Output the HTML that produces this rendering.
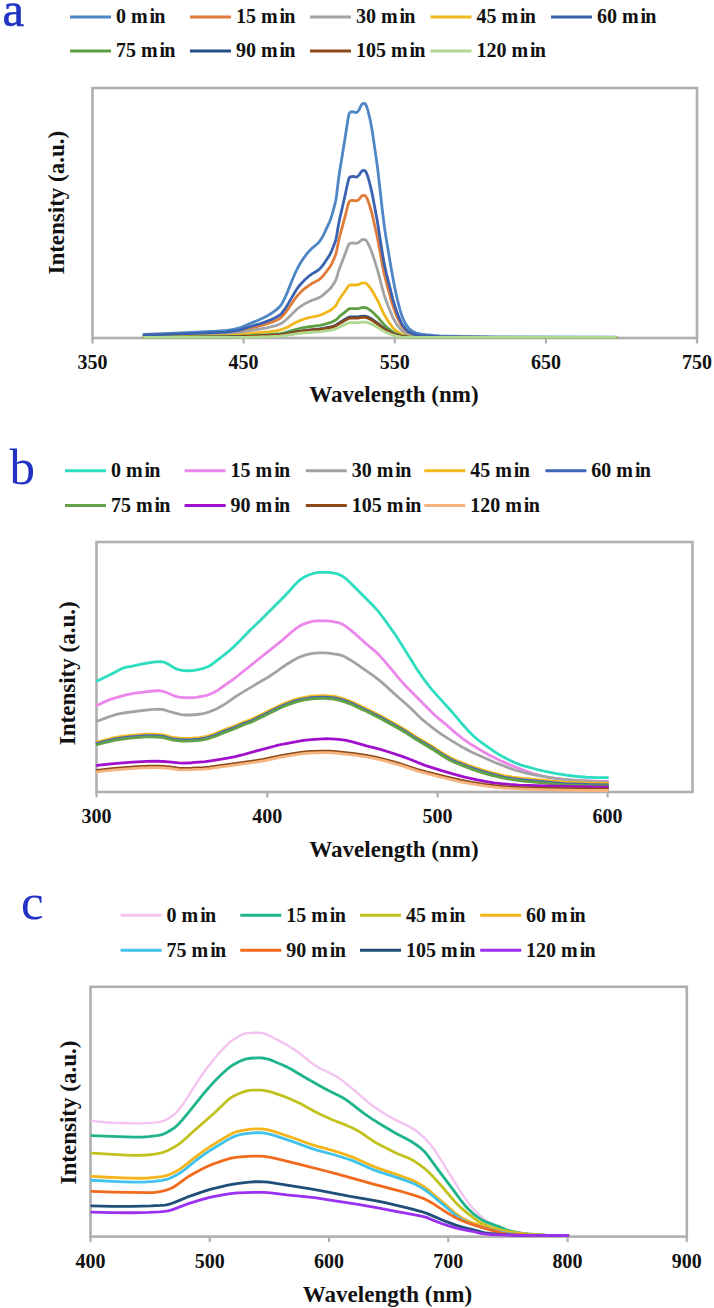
<!DOCTYPE html><html><head><meta charset="utf-8"><style>
html,body{margin:0;padding:0;background:#fff;}
svg{display:block}
.tk{font-family:'Liberation Serif',serif;font-weight:bold;font-size:20px;fill:#111}
.lg{font-family:'Liberation Serif',serif;font-weight:bold;font-size:20px;fill:#111}
.ax{font-family:'Liberation Serif',serif;font-weight:bold;font-size:23px;fill:#111}
.pl{font-family:'Liberation Serif',serif;font-size:51px;fill:#2233c4}
</style></head><body>
<svg width="714" height="1308" viewBox="0 0 714 1308">
<text x="2.6" y="26" class="pl" style="font-size:48.5px;stroke:#2233c4;stroke-width:0.6">a</text>
<rect x="92.5" y="88" width="604.5" height="250" fill="none" stroke="#afafaf" stroke-width="2.6"/>
<line x1="92.5" y1="338" x2="92.5" y2="343.5" stroke="#afafaf" stroke-width="2.2"/>
<line x1="243.6" y1="338" x2="243.6" y2="343.5" stroke="#afafaf" stroke-width="2.2"/>
<line x1="394.8" y1="338" x2="394.8" y2="343.5" stroke="#afafaf" stroke-width="2.2"/>
<line x1="545.9" y1="338" x2="545.9" y2="343.5" stroke="#afafaf" stroke-width="2.2"/>
<line x1="697" y1="338" x2="697" y2="343.5" stroke="#afafaf" stroke-width="2.2"/>
<text x="92.5" y="369" text-anchor="middle" class="tk">350</text>
<text x="243.6" y="369" text-anchor="middle" class="tk">450</text>
<text x="394.8" y="369" text-anchor="middle" class="tk">550</text>
<text x="545.9" y="369" text-anchor="middle" class="tk">650</text>
<text x="697" y="369" text-anchor="middle" class="tk">750</text>
<text x="394" y="401.6" text-anchor="middle" class="ax">Wavelength (nm)</text>
<text transform="translate(63.8,202.7) rotate(-90)" text-anchor="middle" class="ax">Intensity (a.u.)</text>
<line x1="70" y1="16.9" x2="111" y2="16.9" stroke="#4f86c6" stroke-width="3"/>
<text x="115.9" y="23.2" class="lg">0 m<tspan dx='2'>i</tspan><tspan dx='-0.8'>n</tspan></text>
<line x1="190" y1="16.9" x2="231" y2="16.9" stroke="#e07b39" stroke-width="3"/>
<text x="235.9" y="23.2" class="lg">15 m<tspan dx='2'>i</tspan><tspan dx='-0.8'>n</tspan></text>
<line x1="310" y1="16.9" x2="351" y2="16.9" stroke="#a3a3a3" stroke-width="3"/>
<text x="355.9" y="23.2" class="lg">30 m<tspan dx='2'>i</tspan><tspan dx='-0.8'>n</tspan></text>
<line x1="430.5" y1="16.9" x2="471.5" y2="16.9" stroke="#f0b81c" stroke-width="3"/>
<text x="476.4" y="23.2" class="lg">45 m<tspan dx='2'>i</tspan><tspan dx='-0.8'>n</tspan></text>
<line x1="551" y1="16.9" x2="592" y2="16.9" stroke="#3a62b0" stroke-width="3"/>
<text x="596.9" y="23.2" class="lg">60 m<tspan dx='2'>i</tspan><tspan dx='-0.8'>n</tspan></text>
<line x1="70" y1="51" x2="111" y2="51" stroke="#5e9e42" stroke-width="3"/>
<text x="115.9" y="57.3" class="lg">75 m<tspan dx='2'>i</tspan><tspan dx='-0.8'>n</tspan></text>
<line x1="190" y1="51" x2="231" y2="51" stroke="#264e86" stroke-width="3"/>
<text x="235.9" y="57.3" class="lg">90 m<tspan dx='2'>i</tspan><tspan dx='-0.8'>n</tspan></text>
<line x1="310" y1="51" x2="351" y2="51" stroke="#8c4a18" stroke-width="3"/>
<text x="355.9" y="57.3" class="lg">105 m<tspan dx='2'>i</tspan><tspan dx='-0.8'>n</tspan></text>
<line x1="430.5" y1="51" x2="471.5" y2="51" stroke="#b0d890" stroke-width="3"/>
<text x="476.4" y="57.3" class="lg">120 m<tspan dx='2'>i</tspan><tspan dx='-0.8'>n</tspan></text>
<path d="M144.00,334.29 L176.00,333.04 L216.50,331.11 L226.75,330.32 L230.50,329.81 L234.25,329.13 L238.75,328.10 L242.00,327.02 L258.25,320.17 L263.00,318.00 L268.00,315.41 L272.00,312.98 L276.25,309.89 L279.25,307.13 L280.75,305.40 L281.75,303.96 L284.75,298.27 L287.00,293.14 L292.25,280.10 L295.25,272.98 L297.25,268.72 L300.00,263.73 L304.00,257.57 L306.25,254.58 L308.25,252.18 L310.50,249.77 L312.75,247.60 L317.75,243.53 L319.75,241.15 L321.50,238.46 L323.25,235.36 L329.50,222.11 L330.75,218.83 L332.00,214.82 L334.75,204.94 L335.75,200.48 L336.50,195.74 L338.25,181.21 L339.50,172.27 L345.25,137.01 L347.75,120.51 L348.50,116.37 L349.00,114.29 L349.25,113.57 L349.75,112.71 L350.25,112.30 L351.25,111.89 L352.25,111.74 L353.00,111.79 L356.00,112.53 L356.50,112.48 L357.00,112.25 L358.00,111.28 L359.25,109.53 L361.25,105.23 L361.75,104.41 L362.25,103.91 L362.75,103.65 L364.25,103.37 L365.00,103.67 L365.75,104.68 L366.75,106.88 L367.75,109.79 L370.00,119.05 L372.25,130.89 L377.50,167.35 L382.75,213.74 L384.50,227.54 L386.25,238.96 L391.25,268.71 L394.25,285.15 L396.00,293.56 L397.75,301.12 L400.00,309.57 L401.75,315.29 L403.25,319.17 L405.25,323.21 L407.25,326.45 L409.00,328.48 L411.25,330.32 L413.50,331.79 L415.75,332.87 L417.75,333.48 L421.50,334.20 L425.75,334.75 L433.75,335.51 L439.75,335.89 L461.75,336.48 L498.25,336.88 L616.00,337.20" fill="none" stroke="#4f86c6" stroke-width="2.8" stroke-linejoin="round" stroke-linecap="round"/>
<path d="M144.00,335.52 L175.50,334.70 L215.75,333.42 L226.00,332.92 L233.00,332.23 L238.00,331.51 L241.00,330.90 L249.75,328.42 L259.75,325.91 L264.75,324.51 L269.50,323.01 L273.25,321.61 L277.00,319.96 L279.75,318.41 L281.00,317.53 L282.00,316.63 L285.25,312.90 L288.25,308.76 L295.75,297.79 L297.50,295.58 L300.00,292.84 L304.00,289.10 L308.25,285.82 L312.75,283.04 L317.75,280.56 L319.75,279.11 L321.50,277.48 L323.25,275.59 L329.50,267.54 L330.75,265.54 L332.00,263.11 L334.75,257.10 L335.75,254.38 L336.50,251.51 L338.25,242.67 L339.50,237.23 L345.25,215.80 L347.75,205.77 L349.00,201.98 L349.75,201.02 L351.25,200.52 L353.00,200.46 L356.00,200.92 L357.00,200.74 L358.00,200.16 L359.25,199.09 L361.75,195.97 L362.50,195.58 L364.00,195.35 L364.75,195.45 L365.50,195.99 L366.50,197.44 L367.50,199.39 L369.75,205.75 L372.00,213.55 L377.50,237.97 L382.75,266.64 L384.50,275.16 L387.25,285.96 L391.25,300.28 L393.00,306.07 L394.75,311.09 L396.75,316.13 L398.75,320.46 L401.00,324.74 L402.50,327.09 L404.25,329.18 L406.50,331.35 L408.50,332.75 L410.50,333.69 L413.00,334.60 L415.25,335.21 L417.25,335.57 L425.25,336.27 L439.50,336.89 L460.75,337.20 L494.50,337.40 L616.00,337.40" fill="none" stroke="#e07b39" stroke-width="2.8" stroke-linejoin="round" stroke-linecap="round"/>
<path d="M144.00,336.13 L215.00,334.57 L225.50,334.20 L232.00,333.74 L240.25,332.78 L250.00,330.73 L266.50,327.78 L270.75,326.85 L274.75,325.81 L277.75,324.90 L280.00,324.02 L282.25,322.78 L285.50,320.25 L288.75,317.23 L296.00,309.99 L298.00,308.30 L300.25,306.63 L304.25,304.07 L308.25,301.95 L312.75,300.03 L317.75,298.32 L319.75,297.32 L323.25,294.89 L329.50,289.32 L330.75,287.95 L332.00,286.26 L334.75,282.11 L335.75,280.24 L336.50,278.25 L338.25,272.15 L339.50,268.39 L345.25,253.58 L347.75,246.65 L349.00,244.04 L349.75,243.38 L351.25,243.03 L353.00,242.99 L356.00,243.30 L357.00,243.18 L358.00,242.78 L359.25,242.04 L361.75,239.89 L362.50,239.62 L364.00,239.46 L364.75,239.53 L365.50,239.93 L366.50,240.99 L367.50,242.42 L369.75,247.07 L371.75,252.01 L373.25,256.39 L377.50,269.93 L383.00,290.96 L384.50,296.09 L387.50,304.49 L392.50,316.76 L394.25,320.24 L396.25,323.58 L398.00,326.10 L400.50,329.21 L402.00,330.80 L403.50,332.04 L405.75,333.50 L408.00,334.60 L409.75,335.17 L412.50,335.82 L417.25,336.52 L425.25,336.95 L439.75,337.33 L616.00,337.40" fill="none" stroke="#a3a3a3" stroke-width="2.8" stroke-linejoin="round" stroke-linecap="round"/>
<path d="M144.00,336.87 L214.50,335.93 L231.00,335.47 L239.75,334.88 L250.25,333.57 L268.00,331.81 L275.75,330.79 L280.25,329.94 L282.50,329.23 L286.00,327.73 L289.00,326.20 L296.25,322.20 L300.50,320.35 L304.25,319.02 L308.25,317.83 L312.75,316.76 L317.75,315.80 L319.75,315.24 L323.25,313.88 L329.50,310.77 L332.00,309.05 L334.75,306.73 L335.75,305.68 L336.50,304.57 L338.25,301.16 L339.50,299.05 L345.25,290.77 L347.75,286.89 L349.00,285.43 L349.75,285.06 L351.25,284.86 L356.00,285.02 L357.00,284.95 L359.25,284.31 L361.75,283.11 L364.00,282.86 L364.75,282.91 L365.50,283.14 L366.50,283.75 L367.50,284.57 L369.75,287.24 L372.00,290.45 L377.75,300.69 L383.00,312.18 L384.75,315.63 L387.75,320.52 L392.25,326.86 L393.75,328.56 L395.50,330.18 L397.50,331.73 L399.75,333.21 L401.50,334.21 L403.00,334.90 L405.25,335.67 L407.50,336.26 L410.00,336.67 L413.75,337.07 L420.75,337.40 L616.00,337.40" fill="none" stroke="#f0b81c" stroke-width="2.8" stroke-linejoin="round" stroke-linecap="round"/>
<path d="M144.00,335.09 L175.50,334.12 L215.75,332.62 L226.00,332.03 L233.00,331.22 L238.00,330.38 L241.00,329.66 L249.75,326.75 L259.75,323.80 L264.75,322.15 L269.50,320.40 L273.25,318.75 L277.00,316.82 L279.75,315.00 L281.00,313.96 L282.00,312.91 L285.25,308.53 L288.25,303.66 L295.75,290.78 L297.50,288.19 L300.00,284.97 L304.00,280.58 L308.25,276.72 L312.75,273.46 L317.75,270.55 L319.75,268.85 L321.50,266.93 L323.25,264.71 L329.50,255.25 L330.75,252.91 L332.00,250.05 L334.75,243.00 L335.75,239.81 L336.50,236.43 L338.25,226.05 L339.50,219.67 L345.25,194.49 L347.75,182.71 L349.00,178.27 L349.75,177.14 L350.25,176.85 L351.25,176.56 L353.00,176.48 L356.00,177.02 L357.00,176.81 L358.00,176.12 L359.25,174.87 L361.25,171.80 L361.75,171.21 L362.50,170.75 L364.00,170.48 L364.75,170.60 L365.50,171.29 L366.25,172.57 L367.25,174.84 L368.00,177.05 L369.25,181.53 L371.50,190.68 L373.00,197.95 L377.25,220.84 L382.50,254.06 L384.25,263.91 L386.50,274.04 L392.75,298.87 L394.75,305.66 L396.75,311.71 L398.75,316.93 L401.00,322.07 L402.50,324.90 L404.25,327.41 L406.50,330.01 L408.50,331.70 L410.50,332.82 L413.00,333.92 L415.25,334.65 L417.25,335.08 L420.75,335.53 L425.25,335.92 L439.50,336.67 L462.75,337.06 L502.75,337.32 L616.00,337.40" fill="none" stroke="#3a62b0" stroke-width="2.8" stroke-linejoin="round" stroke-linecap="round"/>
<path d="M144.00,337.37 L214.50,336.85 L231.00,336.60 L239.75,336.28 L250.25,335.55 L268.00,334.58 L275.75,334.01 L280.25,333.54 L282.50,333.15 L286.00,332.32 L296.25,329.26 L300.50,328.24 L308.25,326.84 L319.75,325.41 L323.25,324.66 L329.50,322.93 L332.00,321.99 L335.75,320.12 L336.50,319.51 L339.50,316.45 L345.25,311.87 L347.75,309.73 L349.00,308.92 L349.75,308.71 L351.25,308.61 L357.00,308.65 L359.25,308.30 L361.75,307.63 L364.00,307.50 L365.50,307.65 L367.50,308.42 L369.75,309.86 L372.00,311.59 L377.75,317.20 L383.00,323.49 L384.75,325.36 L387.75,327.99 L392.50,331.64 L396.00,333.60 L400.50,335.40 L403.50,336.24 L408.00,337.00 L413.25,337.40 L616.00,337.40" fill="none" stroke="#5e9e42" stroke-width="2.8" stroke-linejoin="round" stroke-linecap="round"/>
<path d="M144.00,337.40 L176.25,337.40 L230.25,337.01 L239.75,336.77 L267.75,335.56 L280.25,334.81 L286.00,333.93 L296.25,331.75 L300.50,331.02 L308.25,330.02 L319.75,328.99 L323.25,328.45 L329.50,327.22 L332.00,326.54 L335.75,325.21 L339.50,322.59 L347.75,317.77 L349.00,317.20 L351.25,316.97 L357.00,317.00 L359.25,316.75 L361.75,316.28 L364.00,316.18 L365.50,316.29 L367.50,316.86 L369.75,317.91 L371.75,319.03 L377.50,323.04 L382.75,327.48 L384.50,328.80 L387.25,330.49 L392.50,333.30 L396.25,334.81 L400.50,336.06 L403.50,336.69 L408.00,337.26 L410.25,337.40 L616.00,337.40" fill="none" stroke="#264e86" stroke-width="2.8" stroke-linejoin="round" stroke-linecap="round"/>
<path d="M144.00,337.40 L182.50,337.40 L230.00,337.07 L239.50,336.84 L267.75,335.69 L280.25,334.98 L286.00,334.15 L296.25,332.08 L300.50,331.39 L308.25,330.45 L319.75,329.48 L323.25,328.97 L329.50,327.80 L332.00,327.16 L335.75,325.90 L339.50,323.42 L347.75,318.86 L349.00,318.31 L351.25,318.10 L357.00,318.13 L359.25,317.89 L361.75,317.44 L364.00,317.35 L365.50,317.46 L367.50,317.99 L371.75,320.05 L377.50,323.85 L382.75,328.04 L384.50,329.30 L387.25,330.89 L392.50,333.56 L396.25,334.98 L400.50,336.17 L403.50,336.76 L408.00,337.30 L409.75,337.40 L616.00,337.40" fill="none" stroke="#8c4a18" stroke-width="2.8" stroke-linejoin="round" stroke-linecap="round"/>
<path d="M144.00,337.40 L244.50,337.40 L270.00,336.59 L280.00,336.12 L285.75,335.48 L296.25,333.79 L300.50,333.24 L308.25,332.49 L319.75,331.72 L329.50,330.39 L332.00,329.88 L335.75,328.87 L339.50,326.90 L347.75,323.28 L349.00,322.84 L351.25,322.67 L357.00,322.70 L361.75,322.15 L364.00,322.08 L365.50,322.16 L367.50,322.58 L371.75,324.22 L377.50,327.24 L384.25,331.45 L386.75,332.63 L391.25,334.49 L393.75,335.39 L396.50,336.16 L400.25,336.99 L402.75,337.40 L616.00,337.40" fill="none" stroke="#b0d890" stroke-width="2.8" stroke-linejoin="round" stroke-linecap="round"/>
<text x="9.5" y="484" class="pl">b</text>
<rect x="96.5" y="542" width="596.0" height="250" fill="none" stroke="#afafaf" stroke-width="2.6"/>
<line x1="96.5" y1="792" x2="96.5" y2="797.5" stroke="#afafaf" stroke-width="2.2"/>
<line x1="267.3" y1="792" x2="267.3" y2="797.5" stroke="#afafaf" stroke-width="2.2"/>
<line x1="437.6" y1="792" x2="437.6" y2="797.5" stroke="#afafaf" stroke-width="2.2"/>
<line x1="607.6" y1="792" x2="607.6" y2="797.5" stroke="#afafaf" stroke-width="2.2"/>
<text x="96.5" y="823" text-anchor="middle" class="tk">300</text>
<text x="267.3" y="823" text-anchor="middle" class="tk">400</text>
<text x="437.6" y="823" text-anchor="middle" class="tk">500</text>
<text x="607.6" y="823" text-anchor="middle" class="tk">600</text>
<text x="394" y="857" text-anchor="middle" class="ax">Wavelength (nm)</text>
<text transform="translate(74.5,673.3) rotate(-90)" text-anchor="middle" class="ax">Intensity (a.u.)</text>
<line x1="65" y1="470.8" x2="106" y2="470.8" stroke="#2edcc0" stroke-width="3"/>
<text x="110.9" y="477.1" class="lg">0 m<tspan dx='2'>i</tspan><tspan dx='-0.8'>n</tspan></text>
<line x1="184.6" y1="470.8" x2="225.6" y2="470.8" stroke="#ec86ea" stroke-width="3"/>
<text x="230.5" y="477.1" class="lg">15 m<tspan dx='2'>i</tspan><tspan dx='-0.8'>n</tspan></text>
<line x1="305.8" y1="470.8" x2="346.8" y2="470.8" stroke="#a3a3a3" stroke-width="3"/>
<text x="351.7" y="477.1" class="lg">30 m<tspan dx='2'>i</tspan><tspan dx='-0.8'>n</tspan></text>
<line x1="424.3" y1="470.8" x2="465.3" y2="470.8" stroke="#f5b81c" stroke-width="3"/>
<text x="470.2" y="477.1" class="lg">45 m<tspan dx='2'>i</tspan><tspan dx='-0.8'>n</tspan></text>
<line x1="545.4" y1="470.8" x2="586.4" y2="470.8" stroke="#3f67b8" stroke-width="3"/>
<text x="591.3" y="477.1" class="lg">60 m<tspan dx='2'>i</tspan><tspan dx='-0.8'>n</tspan></text>
<line x1="65" y1="505.6" x2="106" y2="505.6" stroke="#63a047" stroke-width="3"/>
<text x="110.9" y="511.90000000000003" class="lg">75 m<tspan dx='2'>i</tspan><tspan dx='-0.8'>n</tspan></text>
<line x1="184.6" y1="505.6" x2="225.6" y2="505.6" stroke="#a010cc" stroke-width="3"/>
<text x="230.5" y="511.90000000000003" class="lg">90 m<tspan dx='2'>i</tspan><tspan dx='-0.8'>n</tspan></text>
<line x1="305.8" y1="505.6" x2="346.8" y2="505.6" stroke="#8c4a18" stroke-width="3"/>
<text x="351.7" y="511.90000000000003" class="lg">105 m<tspan dx='2'>i</tspan><tspan dx='-0.8'>n</tspan></text>
<line x1="424.3" y1="505.6" x2="465.3" y2="505.6" stroke="#f5b47e" stroke-width="3"/>
<text x="470.2" y="511.90000000000003" class="lg">120 m<tspan dx='2'>i</tspan><tspan dx='-0.8'>n</tspan></text>
<path d="M97.00,680.80 L98.75,680.22 L100.75,679.31 L113.50,672.94 L120.50,669.17 L123.50,667.90 L125.75,667.29 L132.25,666.09 L142.50,663.81 L151.50,662.27 L155.50,661.89 L159.50,661.69 L161.75,661.77 L163.75,662.13 L165.50,662.71 L167.50,663.65 L173.25,667.28 L176.50,668.90 L179.75,669.99 L183.50,670.55 L189.25,670.74 L191.75,670.61 L194.25,670.30 L198.25,669.56 L202.50,668.58 L205.25,667.77 L207.75,666.80 L209.75,665.76 L211.50,664.62 L224.00,655.14 L228.75,651.24 L234.25,646.29 L240.25,640.38 L250.00,630.16 L260.25,620.57 L280.75,600.09 L284.75,595.94 L296.00,583.63 L298.50,581.18 L300.75,579.33 L304.00,577.21 L307.50,575.46 L311.50,573.99 L315.50,572.96 L320.00,572.39 L325.50,572.15 L329.25,572.37 L334.00,573.10 L337.50,573.94 L340.50,575.09 L343.25,576.72 L346.50,579.25 L350.00,582.49 L372.00,604.55 L377.00,609.92 L380.25,613.83 L383.25,617.73 L395.25,634.58 L399.50,641.14 L417.25,669.80 L422.25,677.06 L428.50,685.43 L431.50,689.14 L435.00,693.18 L453.00,713.06 L461.75,723.47 L467.00,729.40 L470.25,732.80 L473.75,736.18 L477.00,739.07 L480.25,741.65 L494.75,751.81 L499.00,754.50 L503.50,757.10 L509.25,760.10 L515.00,762.72 L519.75,764.60 L524.75,766.17 L538.00,769.76 L545.25,771.47 L555.25,773.40 L566.25,775.09 L577.25,776.49 L586.50,777.23 L593.50,777.50 L607.60,777.60" fill="none" stroke="#2edcc0" stroke-width="2.8" stroke-linejoin="round" stroke-linecap="round"/>
<path d="M97.00,705.25 L99.00,704.50 L105.50,701.38 L109.75,699.70 L116.25,697.57 L125.00,695.10 L129.75,694.03 L135.25,693.11 L153.00,690.99 L158.25,690.68 L160.00,690.76 L161.75,691.02 L163.75,691.55 L166.50,692.54 L173.50,695.57 L175.75,696.38 L179.00,697.07 L184.25,697.59 L190.00,697.75 L195.75,697.35 L203.50,696.12 L206.25,695.48 L208.50,694.76 L213.25,692.70 L218.25,689.95 L233.75,679.00 L281.50,640.87 L293.00,630.81 L296.50,628.15 L299.25,626.35 L302.75,624.51 L306.25,623.09 L310.00,621.99 L314.00,621.18 L317.75,620.84 L324.50,620.81 L328.00,620.96 L331.75,621.42 L338.25,622.62 L340.25,623.25 L342.00,624.03 L344.25,625.34 L347.50,627.60 L353.75,632.61 L366.75,644.27 L375.00,651.08 L379.00,654.89 L384.00,660.35 L400.00,679.66 L403.50,683.65 L433.00,713.39 L436.00,716.29 L438.75,718.68 L445.75,724.32 L455.75,733.09 L463.00,738.82 L467.25,741.87 L471.00,744.35 L485.00,752.72 L489.50,755.18 L500.75,760.82 L507.00,763.65 L519.50,768.68 L526.00,771.11 L536.00,774.46 L542.25,776.19 L548.25,777.42 L554.50,778.40 L561.00,779.11 L571.75,780.02 L579.00,780.52 L589.75,780.99 L599.25,781.29 L607.60,781.40" fill="none" stroke="#ec86ea" stroke-width="2.8" stroke-linejoin="round" stroke-linecap="round"/>
<path d="M97.00,721.05 L99.00,720.47 L105.25,718.07 L111.25,716.02 L115.75,714.65 L119.75,713.68 L125.25,712.75 L143.75,710.28 L153.75,709.29 L158.75,709.08 L162.00,709.39 L164.00,709.87 L169.25,711.50 L178.00,713.97 L181.25,714.66 L184.00,714.98 L189.25,715.00 L196.75,714.51 L201.75,713.92 L205.75,713.00 L210.00,711.57 L214.75,709.66 L218.50,707.84 L223.00,705.31 L226.75,702.91 L233.50,698.04 L237.50,695.38 L247.75,689.16 L268.00,677.23 L275.00,672.66 L283.25,666.73 L287.00,664.20 L293.00,660.55 L298.00,657.82 L301.25,656.41 L305.00,655.14 L308.75,654.18 L313.00,653.37 L315.75,653.04 L318.75,652.91 L325.00,652.93 L328.25,653.15 L338.75,654.68 L340.50,655.07 L342.00,655.57 L344.75,656.82 L348.75,659.00 L352.25,661.10 L356.00,663.58 L373.25,675.73 L377.75,679.11 L381.50,682.12 L385.25,685.38 L395.75,694.95 L407.75,705.45 L411.50,709.00 L418.00,715.55 L421.00,718.34 L426.25,722.76 L434.00,728.89 L442.25,734.82 L451.00,740.42 L463.50,747.83 L468.50,750.52 L473.00,752.71 L495.00,762.52 L509.50,768.13 L513.50,769.54 L518.25,770.98 L524.50,772.67 L529.75,773.93 L537.00,775.36 L549.25,777.47 L555.50,778.36 L564.50,779.40 L574.50,780.37 L585.00,781.14 L597.50,781.88 L607.60,782.28" fill="none" stroke="#a3a3a3" stroke-width="2.8" stroke-linejoin="round" stroke-linecap="round"/>
<path d="M97.00,741.79 L99.50,741.31 L114.25,737.72 L120.25,736.56 L130.25,735.35 L146.00,734.11 L153.25,734.08 L161.25,734.61 L164.50,735.17 L170.25,736.76 L173.00,737.37 L177.75,738.01 L182.50,738.39 L187.00,738.46 L192.50,738.23 L199.50,737.63 L203.75,737.01 L208.50,735.84 L214.25,733.98 L224.00,729.89 L234.00,726.34 L243.25,722.35 L251.00,719.54 L254.75,717.85 L270.50,710.00 L281.25,704.86 L287.50,702.23 L294.00,699.88 L298.25,698.66 L303.25,697.51 L307.25,696.79 L311.50,696.26 L316.75,695.80 L321.00,695.63 L325.50,695.71 L330.75,696.03 L334.00,696.38 L336.75,696.89 L340.50,697.88 L344.75,699.21 L348.50,700.62 L353.25,702.61 L363.75,707.42 L381.00,716.02 L401.25,727.39 L405.50,729.96 L415.00,736.09 L433.75,747.30 L444.50,754.33 L450.00,757.48 L455.25,759.97 L469.00,765.44 L473.75,767.15 L482.25,769.90 L489.00,771.86 L503.75,775.52 L512.50,777.02 L523.25,778.36 L556.25,781.49 L564.50,782.12 L588.00,783.01 L607.60,783.30" fill="none" stroke="#f5b81c" stroke-width="2.8" stroke-linejoin="round" stroke-linecap="round"/>
<path d="M97.00,743.29 L99.50,742.81 L114.25,739.22 L120.25,738.06 L130.25,736.85 L146.00,735.61 L153.25,735.58 L161.25,736.11 L164.50,736.67 L170.25,738.26 L173.00,738.87 L177.75,739.51 L182.50,739.89 L187.00,739.96 L192.50,739.73 L199.50,739.13 L203.75,738.51 L208.50,737.34 L214.25,735.48 L224.00,731.39 L234.00,727.84 L243.25,723.85 L251.00,721.04 L254.75,719.35 L270.50,711.50 L281.25,706.36 L287.50,703.73 L294.00,701.38 L298.25,700.16 L303.25,699.01 L307.25,698.29 L311.50,697.76 L316.75,697.30 L321.00,697.13 L325.50,697.21 L330.75,697.53 L334.00,697.88 L336.75,698.39 L340.50,699.38 L344.75,700.71 L348.50,702.12 L353.25,704.11 L363.75,708.92 L381.00,717.52 L401.25,728.89 L405.50,731.46 L415.00,737.59 L433.75,748.80 L444.50,755.83 L450.00,758.98 L455.25,761.47 L469.00,766.94 L473.75,768.65 L482.25,771.40 L489.00,773.36 L503.75,777.02 L512.50,778.52 L523.25,779.86 L556.25,782.99 L564.50,783.62 L588.00,784.51 L607.60,784.80" fill="none" stroke="#3f67b8" stroke-width="2.8" stroke-linejoin="round" stroke-linecap="round"/>
<path d="M97.00,744.49 L99.50,744.01 L114.25,740.42 L120.25,739.26 L130.25,738.05 L146.00,736.81 L153.25,736.78 L161.25,737.31 L164.50,737.87 L170.25,739.46 L173.00,740.07 L177.75,740.71 L182.50,741.09 L187.00,741.16 L192.50,740.93 L199.50,740.33 L203.75,739.71 L208.50,738.54 L214.25,736.68 L224.00,732.59 L234.00,729.04 L243.25,725.05 L251.00,722.24 L254.75,720.55 L270.50,712.70 L281.25,707.56 L287.50,704.93 L294.00,702.58 L298.25,701.36 L303.25,700.21 L307.25,699.49 L311.50,698.96 L316.75,698.50 L321.00,698.33 L325.50,698.41 L330.75,698.73 L334.00,699.08 L336.75,699.59 L340.50,700.58 L344.75,701.91 L348.50,703.32 L353.25,705.31 L363.75,710.12 L381.00,718.72 L401.25,730.09 L405.50,732.66 L415.00,738.79 L433.75,750.00 L444.50,757.03 L450.00,760.18 L455.25,762.67 L469.00,768.14 L473.75,769.85 L482.25,772.60 L489.00,774.56 L503.75,778.22 L512.50,779.72 L523.25,781.06 L556.25,784.19 L564.50,784.82 L588.00,785.71 L607.60,786.00" fill="none" stroke="#63a047" stroke-width="2.8" stroke-linejoin="round" stroke-linecap="round"/>
<path d="M97.00,765.40 L111.25,763.83 L123.00,762.77 L132.50,762.10 L147.25,761.34 L155.00,761.22 L163.25,761.49 L168.75,761.85 L178.75,762.87 L183.50,763.07 L192.00,762.73 L205.25,761.55 L212.25,760.64 L221.50,759.23 L228.75,757.95 L235.25,756.63 L242.00,754.98 L255.75,751.11 L276.00,745.73 L283.50,744.01 L294.00,742.01 L303.50,740.44 L311.25,739.53 L322.75,738.82 L327.00,738.72 L330.75,738.79 L335.25,739.09 L341.00,739.70 L344.75,740.21 L348.25,740.87 L353.50,742.15 L366.50,745.83 L379.50,749.18 L386.50,751.27 L400.75,755.88 L409.25,759.03 L425.00,765.34 L431.25,767.45 L442.50,770.96 L452.75,773.96 L463.75,776.83 L476.00,779.64 L485.00,781.42 L493.75,782.79 L501.25,783.72 L509.75,784.46 L519.25,785.03 L564.75,786.43 L607.60,787.19" fill="none" stroke="#a010cc" stroke-width="2.8" stroke-linejoin="round" stroke-linecap="round"/>
<path d="M97.00,770.30 L111.75,768.68 L124.25,767.57 L137.75,766.70 L149.50,766.17 L156.75,766.15 L165.50,766.52 L169.75,766.91 L178.25,768.05 L182.75,768.36 L192.00,768.21 L203.75,767.59 L209.25,767.02 L219.75,765.69 L255.75,760.65 L263.50,759.28 L282.25,755.34 L301.00,752.46 L307.25,751.76 L312.75,751.37 L323.00,751.05 L329.75,751.06 L336.25,751.56 L354.50,753.69 L366.25,755.46 L375.50,757.20 L385.00,759.50 L397.50,762.96 L403.25,764.75 L416.75,769.31 L426.00,771.87 L450.25,777.90 L460.50,780.23 L471.75,782.43 L484.50,784.44 L494.50,785.69 L502.00,786.43 L511.00,787.04 L522.00,787.55 L537.25,788.03 L566.75,788.67 L607.60,789.20" fill="none" stroke="#8c4a18" stroke-width="2.8" stroke-linejoin="round" stroke-linecap="round"/>
<path d="M97.00,771.80 L111.75,770.18 L124.25,769.07 L137.75,768.20 L149.50,767.67 L156.75,767.65 L165.50,768.02 L169.75,768.41 L178.25,769.55 L182.75,769.86 L192.00,769.71 L203.75,769.09 L209.25,768.52 L219.75,767.19 L255.75,762.15 L263.50,760.78 L282.25,756.84 L301.00,753.96 L307.25,753.26 L312.75,752.87 L323.00,752.55 L329.75,752.56 L336.25,753.06 L354.25,755.15 L366.00,756.91 L375.25,758.65 L384.75,760.93 L397.25,764.39 L403.00,766.16 L417.00,770.89 L426.00,773.37 L450.25,779.40 L460.75,781.78 L472.00,783.98 L484.75,785.97 L494.75,787.21 L502.50,787.98 L512.25,788.60 L524.00,789.12 L540.25,789.60 L577.50,790.37 L586.50,790.50 L607.60,790.50" fill="none" stroke="#f5b47e" stroke-width="2.8" stroke-linejoin="round" stroke-linecap="round"/>
<text x="21" y="919.3" class="pl">c</text>
<rect x="90.5" y="986.8" width="596.3" height="249.79999999999995" fill="none" stroke="#afafaf" stroke-width="2.6"/>
<line x1="90.5" y1="1236.6" x2="90.5" y2="1242.1" stroke="#afafaf" stroke-width="2.2"/>
<line x1="209.8" y1="1236.6" x2="209.8" y2="1242.1" stroke="#afafaf" stroke-width="2.2"/>
<line x1="329.1" y1="1236.6" x2="329.1" y2="1242.1" stroke="#afafaf" stroke-width="2.2"/>
<line x1="448.3" y1="1236.6" x2="448.3" y2="1242.1" stroke="#afafaf" stroke-width="2.2"/>
<line x1="567.6" y1="1236.6" x2="567.6" y2="1242.1" stroke="#afafaf" stroke-width="2.2"/>
<line x1="686.8" y1="1236.6" x2="686.8" y2="1242.1" stroke="#afafaf" stroke-width="2.2"/>
<text x="90.5" y="1267.5" text-anchor="middle" class="tk">400</text>
<text x="209.8" y="1267.5" text-anchor="middle" class="tk">500</text>
<text x="329.1" y="1267.5" text-anchor="middle" class="tk">600</text>
<text x="448.3" y="1267.5" text-anchor="middle" class="tk">700</text>
<text x="567.6" y="1267.5" text-anchor="middle" class="tk">800</text>
<text x="686.8" y="1267.5" text-anchor="middle" class="tk">900</text>
<text x="387.5" y="1301.5" text-anchor="middle" class="ax">Wavelength (nm)</text>
<text transform="translate(76,1112.5) rotate(-90)" text-anchor="middle" class="ax">Intensity (a.u.)</text>
<line x1="120.6" y1="915.2" x2="161.6" y2="915.2" stroke="#f3c4ef" stroke-width="3"/>
<text x="166.5" y="921.5" class="lg">0 m<tspan dx='2'>i</tspan><tspan dx='-0.8'>n</tspan></text>
<line x1="240.3" y1="915.2" x2="281.3" y2="915.2" stroke="#1eb48c" stroke-width="3"/>
<text x="286.2" y="921.5" class="lg">15 m<tspan dx='2'>i</tspan><tspan dx='-0.8'>n</tspan></text>
<line x1="360" y1="915.2" x2="401" y2="915.2" stroke="#c2c21e" stroke-width="3"/>
<text x="405.9" y="921.5" class="lg">45 m<tspan dx='2'>i</tspan><tspan dx='-0.8'>n</tspan></text>
<line x1="480.2" y1="915.2" x2="521.2" y2="915.2" stroke="#f4b41a" stroke-width="3"/>
<text x="526.1" y="921.5" class="lg">60 m<tspan dx='2'>i</tspan><tspan dx='-0.8'>n</tspan></text>
<line x1="120.6" y1="950.2" x2="161.6" y2="950.2" stroke="#40c2ea" stroke-width="3"/>
<text x="166.5" y="956.5" class="lg">75 m<tspan dx='2'>i</tspan><tspan dx='-0.8'>n</tspan></text>
<line x1="240.3" y1="950.2" x2="281.3" y2="950.2" stroke="#f26b1d" stroke-width="3"/>
<text x="286.2" y="956.5" class="lg">90 m<tspan dx='2'>i</tspan><tspan dx='-0.8'>n</tspan></text>
<line x1="360" y1="950.2" x2="401" y2="950.2" stroke="#1f4e79" stroke-width="3"/>
<text x="405.9" y="956.5" class="lg">105 m<tspan dx='2'>i</tspan><tspan dx='-0.8'>n</tspan></text>
<line x1="480.2" y1="950.2" x2="521.2" y2="950.2" stroke="#9b30f0" stroke-width="3"/>
<text x="526.1" y="956.5" class="lg">120 m<tspan dx='2'>i</tspan><tspan dx='-0.8'>n</tspan></text>
<path d="M91.80,1120.92 L104.55,1122.21 L112.30,1122.75 L129.55,1123.30 L142.05,1123.33 L151.05,1122.84 L155.80,1122.39 L158.80,1121.97 L161.05,1121.49 L163.05,1120.89 L165.30,1120.01 L167.55,1118.94 L170.80,1117.06 L173.55,1115.00 L176.30,1112.36 L179.55,1108.61 L182.80,1104.42 L185.55,1100.55 L188.05,1096.70 L194.05,1086.83 L197.05,1082.13 L201.80,1075.20 L207.05,1068.00 L213.30,1059.96 L218.30,1053.98 L223.80,1048.06 L228.80,1043.22 L232.55,1040.16 L236.55,1037.49 L240.80,1035.14 L242.55,1034.37 L244.30,1033.78 L246.05,1033.37 L248.05,1033.08 L254.55,1032.71 L259.55,1032.71 L263.05,1033.19 L266.30,1034.24 L270.05,1036.01 L284.55,1043.63 L289.05,1046.21 L293.55,1048.98 L299.55,1053.16 L310.55,1062.21 L315.30,1065.64 L317.80,1067.16 L320.55,1068.63 L329.80,1072.98 L333.30,1074.77 L336.80,1076.83 L340.55,1079.36 L345.80,1083.33 L353.30,1089.37 L368.80,1102.86 L372.55,1105.74 L377.05,1108.88 L384.80,1113.80 L393.55,1118.85 L398.30,1121.31 L407.55,1125.67 L411.30,1127.66 L415.05,1130.05 L418.80,1132.96 L423.30,1136.97 L427.30,1140.91 L430.30,1144.31 L433.30,1148.26 L436.30,1152.67 L440.80,1159.68 L461.80,1193.53 L465.05,1198.39 L468.55,1203.17 L472.55,1208.03 L477.05,1212.75 L482.80,1218.01 L487.05,1221.24 L490.05,1223.07 L494.05,1225.17 L498.05,1227.02 L501.80,1228.52 L505.05,1229.63 L508.55,1230.60 L512.80,1231.56 L517.80,1232.51 L523.55,1233.40 L529.05,1234.03 L546.05,1235.21 L547.80,1235.30 L567.90,1235.30" fill="none" stroke="#f3c4ef" stroke-width="2.4" stroke-linejoin="round" stroke-linecap="round"/>
<path d="M91.80,1135.55 L126.05,1136.96 L135.05,1137.17 L141.30,1137.13 L148.80,1136.67 L156.80,1135.72 L161.05,1134.82 L164.80,1133.44 L168.55,1131.53 L172.55,1129.05 L175.55,1126.79 L178.55,1123.99 L182.30,1119.83 L189.80,1110.79 L203.05,1094.28 L210.80,1085.36 L215.55,1080.28 L220.80,1075.09 L226.05,1070.22 L230.05,1066.94 L233.80,1064.43 L238.30,1062.02 L242.55,1060.13 L246.30,1058.94 L250.55,1058.25 L257.05,1057.88 L261.55,1057.97 L265.30,1058.51 L268.80,1059.42 L273.05,1060.92 L282.05,1064.68 L286.80,1066.88 L291.30,1069.32 L303.80,1076.81 L322.30,1087.33 L328.30,1090.53 L338.55,1095.51 L342.80,1097.78 L345.80,1099.61 L349.05,1101.84 L363.55,1113.10 L367.55,1115.95 L372.30,1119.08 L382.55,1125.45 L392.30,1131.23 L397.55,1134.18 L406.30,1138.71 L410.05,1140.80 L414.30,1143.46 L418.30,1146.27 L421.05,1148.44 L423.30,1150.45 L425.30,1152.48 L427.30,1154.83 L437.80,1169.37 L452.30,1188.66 L460.55,1199.92 L464.80,1205.20 L468.80,1209.53 L472.80,1213.30 L477.30,1216.86 L481.55,1219.66 L484.55,1221.26 L487.55,1222.59 L498.80,1226.60 L507.05,1229.97 L511.05,1231.18 L516.80,1232.37 L522.55,1233.29 L528.30,1233.97 L545.05,1235.16 L547.80,1235.30 L567.90,1235.30" fill="none" stroke="#1eb48c" stroke-width="2.8" stroke-linejoin="round" stroke-linecap="round"/>
<path d="M91.80,1153.17 L126.05,1155.06 L133.55,1155.33 L139.55,1155.36 L146.80,1155.01 L154.80,1154.12 L160.05,1153.22 L164.05,1152.04 L168.30,1150.23 L173.55,1147.48 L177.80,1144.87 L181.30,1142.27 L184.80,1139.27 L193.80,1131.02 L214.05,1113.20 L226.55,1101.17 L229.55,1098.68 L232.30,1096.80 L235.80,1094.93 L240.30,1092.98 L244.30,1091.57 L247.80,1090.68 L251.55,1090.20 L256.55,1090.03 L261.05,1090.12 L264.80,1090.54 L268.80,1091.43 L273.80,1092.95 L283.30,1096.15 L289.80,1098.72 L295.80,1101.42 L301.30,1104.09 L314.55,1111.48 L321.80,1115.09 L332.80,1119.95 L346.05,1125.17 L351.55,1127.58 L356.30,1129.97 L360.55,1132.41 L363.80,1134.54 L372.55,1140.70 L378.30,1144.09 L394.80,1152.44 L398.80,1154.22 L408.30,1157.99 L411.30,1159.45 L414.55,1161.31 L418.80,1164.11 L423.05,1167.28 L426.55,1170.20 L430.05,1173.51 L434.55,1178.21 L439.55,1183.73 L454.80,1201.60 L457.55,1204.52 L460.30,1207.15 L465.80,1211.86 L474.80,1218.95 L478.55,1221.51 L482.30,1223.54 L485.80,1225.09 L489.55,1226.54 L493.30,1227.79 L497.30,1228.92 L502.05,1230.03 L508.55,1231.36 L520.05,1233.26 L530.05,1234.35 L546.05,1235.30 L567.90,1235.30" fill="none" stroke="#c2c21e" stroke-width="2.8" stroke-linejoin="round" stroke-linecap="round"/>
<path d="M91.80,1176.37 L107.80,1177.25 L123.55,1177.94 L132.55,1178.22 L139.55,1178.27 L146.80,1178.03 L154.30,1177.42 L161.80,1176.52 L166.30,1175.59 L169.30,1174.59 L172.55,1173.18 L176.80,1170.99 L180.30,1168.93 L184.80,1165.68 L195.80,1156.61 L206.05,1149.29 L211.30,1145.79 L216.05,1142.82 L227.55,1135.96 L232.05,1133.55 L235.05,1132.25 L238.05,1131.29 L241.30,1130.58 L246.30,1129.77 L251.30,1129.17 L256.05,1128.82 L260.05,1128.79 L263.55,1129.06 L268.30,1129.92 L273.55,1131.36 L293.55,1138.03 L307.80,1143.25 L313.30,1145.13 L318.30,1146.63 L332.30,1150.38 L339.55,1152.59 L346.30,1154.82 L351.55,1156.71 L355.80,1158.41 L369.55,1164.75 L375.30,1167.16 L380.80,1169.15 L393.55,1173.38 L403.80,1176.95 L408.55,1178.71 L412.55,1180.38 L416.55,1182.31 L420.30,1184.40 L424.05,1186.76 L427.30,1189.10 L430.80,1191.94 L444.30,1203.52 L454.55,1212.57 L458.55,1215.66 L462.05,1217.89 L466.05,1220.05 L470.30,1222.01 L474.55,1223.63 L481.05,1225.67 L499.80,1230.84 L505.30,1231.98 L513.55,1233.16 L520.05,1233.89 L526.55,1234.45 L542.80,1235.29 L567.90,1235.30" fill="none" stroke="#f4b41a" stroke-width="2.8" stroke-linejoin="round" stroke-linecap="round"/>
<path d="M91.80,1180.27 L107.80,1181.15 L123.55,1181.84 L132.55,1182.12 L139.55,1182.17 L146.80,1181.93 L154.30,1181.32 L161.80,1180.42 L166.30,1179.49 L169.30,1178.49 L172.55,1177.08 L176.80,1174.89 L180.30,1172.83 L184.80,1169.58 L195.80,1160.51 L206.05,1153.19 L211.30,1149.69 L216.05,1146.72 L227.55,1139.86 L232.05,1137.45 L235.05,1136.15 L238.05,1135.19 L241.30,1134.48 L246.05,1133.71 L251.05,1133.09 L255.80,1132.73 L259.80,1132.68 L263.30,1132.93 L268.05,1133.76 L273.30,1135.19 L293.55,1141.93 L307.80,1147.15 L313.55,1149.11 L318.55,1150.60 L334.05,1154.76 L347.80,1159.01 L352.30,1160.59 L356.30,1162.16 L369.55,1168.10 L375.30,1170.43 L380.80,1172.36 L393.55,1176.41 L404.05,1179.92 L409.05,1181.71 L413.05,1183.34 L416.80,1185.11 L420.55,1187.14 L424.30,1189.45 L427.55,1191.74 L431.05,1194.53 L444.55,1205.84 L454.30,1214.27 L458.30,1217.32 L461.80,1219.51 L465.80,1221.61 L469.80,1223.40 L474.05,1224.97 L480.80,1226.98 L500.30,1231.99 L506.30,1233.10 L516.05,1234.34 L527.05,1235.30 L567.90,1235.30" fill="none" stroke="#40c2ea" stroke-width="2.8" stroke-linejoin="round" stroke-linecap="round"/>
<path d="M91.80,1191.45 L113.05,1192.19 L146.55,1192.69 L153.80,1192.51 L156.80,1192.17 L159.80,1191.64 L163.55,1190.78 L167.05,1189.82 L169.55,1188.97 L171.80,1187.98 L174.05,1186.74 L176.30,1185.28 L184.30,1179.36 L187.55,1177.15 L191.55,1174.75 L198.30,1170.98 L204.05,1168.00 L209.30,1165.58 L213.80,1163.80 L221.30,1161.15 L226.05,1159.62 L230.30,1158.45 L234.05,1157.64 L237.80,1157.09 L244.30,1156.59 L253.30,1156.20 L259.30,1156.14 L263.80,1156.38 L269.05,1157.11 L275.30,1158.42 L297.80,1163.80 L325.80,1171.00 L336.80,1173.95 L372.55,1183.89 L398.30,1190.62 L407.55,1193.25 L415.30,1195.65 L422.80,1198.28 L425.55,1199.47 L428.05,1200.73 L433.80,1204.14 L445.30,1211.58 L451.05,1215.13 L456.05,1217.97 L460.30,1220.02 L467.05,1222.66 L477.55,1226.18 L484.80,1228.37 L499.30,1232.42 L504.05,1233.51 L508.30,1234.13 L513.05,1234.48 L523.55,1234.98 L532.05,1235.30 L567.90,1235.30" fill="none" stroke="#f26b1d" stroke-width="2.8" stroke-linejoin="round" stroke-linecap="round"/>
<path d="M91.80,1205.84 L112.05,1206.40 L131.80,1206.46 L151.05,1205.95 L160.80,1205.45 L165.05,1205.06 L168.55,1204.38 L172.30,1203.24 L175.80,1201.89 L187.05,1197.17 L203.05,1191.64 L211.05,1189.20 L220.55,1186.81 L226.80,1185.42 L232.05,1184.40 L236.80,1183.64 L242.55,1182.93 L249.55,1182.18 L255.05,1181.77 L259.80,1181.64 L264.05,1181.78 L268.05,1182.14 L272.80,1182.77 L312.05,1189.11 L320.30,1190.60 L350.30,1196.41 L373.55,1200.28 L384.05,1202.49 L410.30,1208.59 L421.30,1211.53 L428.05,1213.84 L445.80,1221.42 L455.80,1225.15 L463.05,1227.30 L472.80,1229.73 L481.05,1231.95 L485.05,1232.81 L490.30,1233.51 L499.30,1234.30 L508.30,1234.86 L517.80,1235.23 L567.90,1235.30" fill="none" stroke="#1f4e79" stroke-width="2.8" stroke-linejoin="round" stroke-linecap="round"/>
<path d="M91.80,1212.14 L111.55,1212.69 L131.05,1212.77 L149.05,1212.33 L159.30,1211.84 L164.30,1211.46 L168.05,1210.84 L171.80,1209.83 L175.30,1208.61 L186.80,1204.19 L202.30,1199.43 L210.80,1197.21 L221.30,1195.07 L230.30,1193.55 L237.55,1192.82 L253.30,1192.36 L259.55,1192.32 L264.05,1192.44 L270.55,1192.96 L286.80,1194.96 L307.05,1196.90 L316.05,1197.93 L331.80,1200.47 L358.05,1204.39 L377.80,1207.76 L395.80,1211.30 L416.30,1215.01 L422.55,1216.32 L425.30,1217.07 L427.80,1217.92 L436.05,1221.38 L442.30,1223.73 L447.30,1225.41 L452.80,1227.07 L460.55,1229.02 L472.05,1231.26 L480.80,1233.27 L484.55,1233.95 L491.05,1234.48 L512.30,1235.30 L567.90,1235.30" fill="none" stroke="#9b30f0" stroke-width="2.8" stroke-linejoin="round" stroke-linecap="round"/>
</svg></body></html>
